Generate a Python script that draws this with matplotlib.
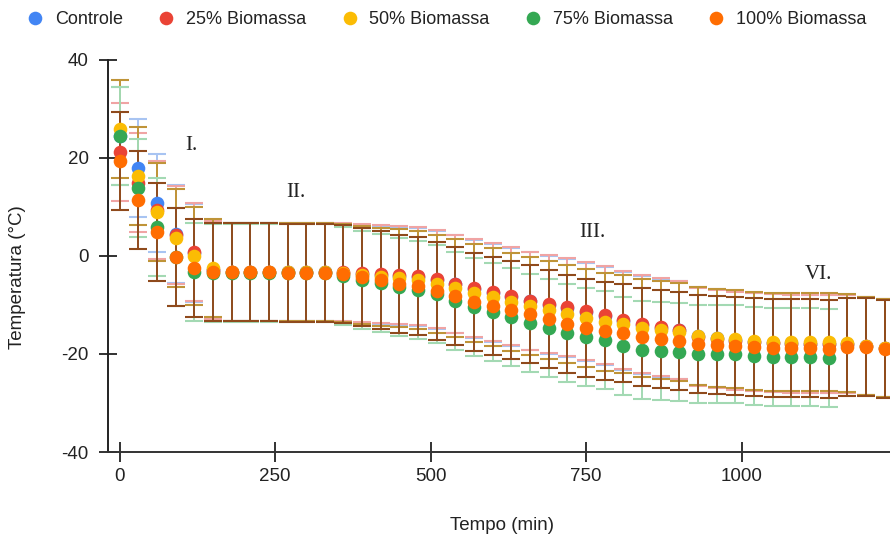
import numpy as np
import matplotlib
matplotlib.use("Agg")
import matplotlib.pyplot as plt

plt.rcParams['font.family'] = ['Liberation Sans', 'DejaVu Sans']
plt.rcParams['axes.unicode_minus'] = False

# tempo (min), um ponto a cada 30 min
tempo = list(range(0, 1231, 30))
tempo_75 = list(range(0, 1141, 30))

controle = [24.5, 17.9, 10.8, 4.5, 0.6, -2.8, -3.3, -3.3, -3.3, -3.3, -3.3, -3.2,
            -3.4, -3.6, -3.8, -4.0, -4.2, -4.9, -5.8, -6.7, -7.5, -8.3, -9.2, -9.9,
            -10.7, -11.4, -12.2, -13.2, -14.0, -14.6, -15.2, -16.4, -16.8, -17.2,
            -17.5, -17.7, -17.8, -17.9, -17.9, -18.0, -18.3, -18.7]
bio25 = [21.3, 15.0, 9.3, 4.3, 0.8, -2.8, -3.3, -3.3, -3.3, -3.3, -3.2, -3.2,
         -3.3, -3.5, -3.7, -3.9, -4.0, -4.7, -5.7, -6.5, -7.4, -8.1, -9.1, -9.8,
         -10.5, -11.2, -12.0, -13.1, -13.9, -14.5, -15.1, -16.5, -16.9, -17.3,
         -17.6, -17.8, -17.9, -17.9, -17.9, -18.0, -18.4, -18.8]
bio50 = [25.9, 16.4, 9.0, 3.6, -0.1, -2.4, -3.2, -3.2, -3.2, -3.2, -3.2, -3.3,
         -3.5, -3.8, -4.2, -4.5, -4.8, -5.7, -6.6, -7.6, -8.4, -9.3, -10.2, -11.0,
         -11.9, -12.6, -13.4, -13.9, -14.6, -15.1, -15.6, -16.3, -16.7, -17.0,
         -17.3, -17.5, -17.6, -17.6, -17.6, -17.8, -18.3, -18.7]
bio75 = [24.4, 13.9, 5.9, -0.3, -3.3, -3.4, -3.4, -3.4, -3.4, -3.4, -3.4, -3.5,
         -4.0, -4.8, -5.6, -6.4, -6.9, -7.8, -9.1, -10.5, -11.4, -12.5, -13.6, -14.6,
         -15.7, -16.5, -17.2, -18.4, -19.2, -19.4, -19.5, -19.9, -20.1, -20.1,
         -20.4, -20.6, -20.6, -20.6, -20.8]
bio100 = [19.4, 11.5, 4.8, -0.2, -2.5, -3.2, -3.3, -3.3, -3.3, -3.4, -3.4, -3.4,
          -3.7, -4.2, -4.9, -5.7, -6.2, -7.1, -8.2, -9.3, -10.2, -11.0, -11.9, -12.8,
          -13.9, -14.6, -15.3, -15.8, -16.5, -17.0, -17.3, -17.9, -18.2, -18.4,
          -18.6, -18.8, -18.8, -18.8, -19.0, -18.6, -18.6, -19.0]
erro = 10

series = [
    ("Controle", tempo, controle, '#4285F4', '#a8c4f2'),
    ("25% Biomassa", tempo, bio25, '#EA4335', '#f0a4a4'),
    ("50% Biomassa", tempo, bio50, '#FBBC04', '#bf9438'),
    ("75% Biomassa", tempo_75, bio75, '#34A853', '#a3d9b3'),
    ("100% Biomassa", tempo, bio100, '#FF6D01', '#8f4a1c'),
]

fig = plt.figure(figsize=(8.9, 5.43), dpi=100)
ax = fig.add_axes([108/890, 91/543, 782/890, 392/543])

handles = []
for nome, t, y, cor, ecor in series:
    ax.errorbar(t, y, yerr=erro, fmt='none', ecolor=ecor, elinewidth=1.4,
                capsize=6.7, capthick=1.5, zorder=2)
for nome, t, y, cor, ecor in series:
    h, = ax.plot(t, y, 'o', ms=9.8, color=cor, mec='none', zorder=3, label=nome)
    handles.append(h)

ax.set_xlim(-18.6, 1238.6)
ax.set_ylim(-40, 40)
ax.set_xticks([0, 250, 500, 750, 1000])
ax.set_yticks([-40, -20, 0, 20, 40])
for s in ['top', 'right']:
    ax.spines[s].set_visible(False)
ax.spines['left'].set_color('#222222')
ax.spines['bottom'].set_color('#333333')
ax.spines['left'].set_linewidth(1.4)
ax.spines['bottom'].set_linewidth(1.4)
ax.tick_params(axis='y', direction='inout', length=13, width=1.3, color='#222222',
               labelsize=13.5, labelcolor='#222222', pad=7.5)
ax.tick_params(axis='x', direction='inout', length=14, width=1.3, color='#222222',
               labelsize=13.5, labelcolor='#222222', pad=4.5)

# fases
fase = dict(family=['Liberation Serif', 'DejaVu Serif'], fontsize=15, color='#222222',
            ha='center', va='center')
ax.text(115, 22.6, "I.", **fase)
ax.text(284, 12.9, "II.", **fase)
ax.text(760, 4.8, "III.", **fase)
ax.text(1123, -3.8, "VI.", **fase)

fig.text(18/890, 1 - 277/543, "Temperatura (°C)", rotation=90, ha='center',
         va='center', fontsize=13.5, color='#222222')
fig.text(502/890, 1 - 526/543, "Tempo (min)", ha='center', va='center',
         fontsize=13.5, color='#222222')

fig.legend(handles=handles, loc='center left', bbox_to_anchor=(26/890, 1 - 20/543),
           ncol=5, frameon=False, fontsize=13, handlelength=1.0, handletextpad=0.6,
           columnspacing=1.9, borderpad=0, borderaxespad=0, labelcolor='#222222')

fig.savefig("out.png", dpi=100)
